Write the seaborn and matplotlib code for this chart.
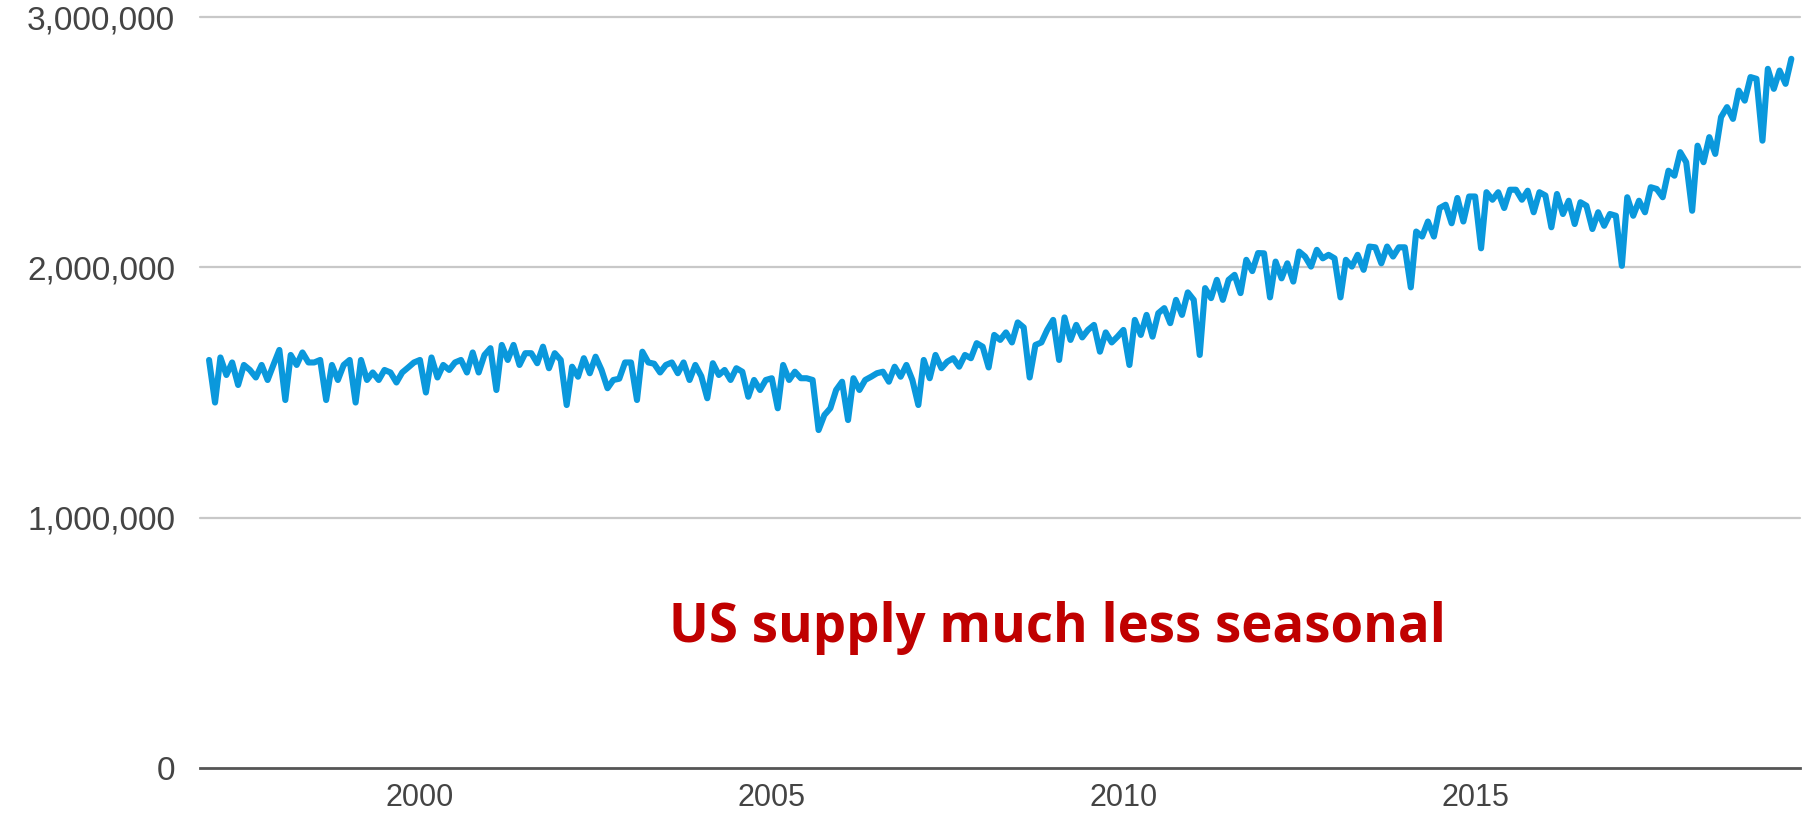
import numpy as np
import pandas as pd
import matplotlib
matplotlib.use("Agg")
import matplotlib.pyplot as plt
from matplotlib.ticker import FuncFormatter
import seaborn as sns

# Monthly US supply (barrels/day), Jan 1997 - Jul 2019, values in millions
start_month = "1997-01-01"
v1997 = [1.63, 1.46, 1.64, 1.57, 1.62, 1.53, 1.61, 1.59, 1.56, 1.61, 1.55, 1.61]
v1998 = [1.67, 1.47, 1.65, 1.61, 1.66, 1.62, 1.62, 1.63, 1.47, 1.61, 1.55, 1.61]
v1999 = [1.63, 1.46, 1.63, 1.55, 1.58, 1.55, 1.59, 1.58, 1.54, 1.58, 1.60, 1.62]
v2000 = [1.63, 1.50, 1.64, 1.56, 1.61, 1.59, 1.62, 1.63, 1.58, 1.66, 1.58, 1.65]
v2001 = [1.677, 1.51, 1.69, 1.63, 1.69, 1.61, 1.657, 1.657, 1.617, 1.683, 1.597, 1.657]
v2002 = [1.63, 1.45, 1.603, 1.563, 1.637, 1.577, 1.643, 1.59, 1.517, 1.55, 1.555, 1.62]
v2003 = [1.62, 1.47, 1.663, 1.62, 1.615, 1.58, 1.61, 1.62, 1.577, 1.62, 1.55, 1.61]
v2004 = [1.565, 1.477, 1.617, 1.57, 1.59, 1.55, 1.597, 1.583, 1.483, 1.55, 1.51, 1.55]
v2005 = [1.557, 1.437, 1.61, 1.55, 1.583, 1.557, 1.557, 1.55, 1.35, 1.41, 1.437, 1.51]
v2006 = [1.543, 1.39, 1.557, 1.51, 1.55, 1.563, 1.577, 1.583, 1.543, 1.603, 1.563, 1.61]
v2007 = [1.55, 1.45, 1.63, 1.557, 1.65, 1.597, 1.623, 1.637, 1.603, 1.65, 1.637, 1.697]
v2008 = [1.683, 1.60, 1.73, 1.71, 1.74, 1.70, 1.78, 1.76, 1.56, 1.69, 1.70, 1.75]
v2009 = [1.79, 1.63, 1.80, 1.71, 1.77, 1.72, 1.75, 1.77, 1.663, 1.74, 1.70, 1.723]
v2010 = [1.75, 1.61, 1.79, 1.73, 1.81, 1.723, 1.817, 1.837, 1.777, 1.87, 1.81, 1.90]
v2011 = [1.87, 1.65, 1.917, 1.877, 1.95, 1.87, 1.95, 1.97, 1.897, 2.03, 1.985, 2.057]
v2012 = [2.056, 1.88, 2.023, 1.956, 2.016, 1.943, 2.063, 2.043, 2.003, 2.07, 2.036, 2.05]
v2013 = [2.036, 1.88, 2.03, 2.003, 2.05, 1.99, 2.083, 2.08, 2.016, 2.083, 2.043, 2.08]
v2014 = [2.08, 1.92, 2.143, 2.123, 2.183, 2.123, 2.237, 2.25, 2.176, 2.277, 2.183, 2.283]
v2015 = [2.283, 2.076, 2.30, 2.27, 2.30, 2.237, 2.31, 2.31, 2.27, 2.306, 2.22, 2.30]
v2016 = [2.287, 2.16, 2.293, 2.213, 2.266, 2.173, 2.26, 2.246, 2.153, 2.22, 2.166, 2.213]
v2017 = [2.206, 2.006, 2.28, 2.206, 2.266, 2.22, 2.32, 2.313, 2.28, 2.386, 2.366, 2.46]
v2018 = [2.42, 2.226, 2.486, 2.42, 2.52, 2.453, 2.60, 2.64, 2.593, 2.706, 2.666, 2.76]
v2019 = [2.753, 2.506, 2.793, 2.713, 2.786, 2.733, 2.833]

y_ticks = [0, 1_000_000, 2_000_000, 3_000_000]
x_tick_years = [2000, 2005, 2010, 2015]
annotation = "US supply much less seasonal"

values = (v1997 + v1998 + v1999 + v2000 + v2001 + v2002 + v2003 + v2004 + v2005
          + v2006 + v2007 + v2008 + v2009 + v2010 + v2011 + v2012 + v2013
          + v2014 + v2015 + v2016 + v2017 + v2018 + v2019)
dates = pd.date_range(start_month, periods=len(values), freq="MS")
df = pd.DataFrame({"date": dates, "supply": np.array(values) * 1_000_000})

sns.set_theme(style="white")
plt.rcParams["font.family"] = ["Liberation Sans", "DejaVu Sans"]

fig = plt.figure(figsize=(18.19, 8.13), dpi=100)
ax = fig.add_axes([200 / 1819, 1 - 768 / 813, 1600 / 1819, 751 / 813])

for yt in y_ticks[1:]:
    ax.axhline(yt, color="#c8c8c8", lw=1.6, zorder=1, clip_on=False)

sns.lineplot(data=df, x="date", y="supply", ax=ax, color="#0a98dc",
             linewidth=4.4, zorder=3)

ax.set_ylim(0, 3_000_000)
ax.set_xlim(pd.Timestamp("1996-11-15"), pd.Timestamp("2019-08-15"))
ax.set_yticks(y_ticks)
ax.yaxis.set_major_formatter(FuncFormatter(lambda v, p: f"{int(v):,}"))
ax.set_xticks([pd.Timestamp(f"{y}-01-01") for y in x_tick_years])
ax.set_xticklabels([str(y) for y in x_tick_years])
ax.tick_params(axis="y", length=0, pad=18, labelsize=24, labelcolor="#444444")
ax.tick_params(axis="x", length=0, pad=11, labelsize=22, labelcolor="#444444")
ax.set_xlabel("")
ax.set_ylabel("")
for s in ["top", "right", "left"]:
    ax.spines[s].set_visible(False)
ax.spines["bottom"].set_color("#555555")
ax.spines["bottom"].set_linewidth(2.0)
ax.grid(False)

ax.text(0.536, 0.186, annotation, transform=ax.transAxes, ha="center", va="center",
        fontsize=38, fontweight="bold", color="#c00000",
        family=["Open Sans", "DejaVu Sans"])

fig.savefig("out.png", dpi=100)
